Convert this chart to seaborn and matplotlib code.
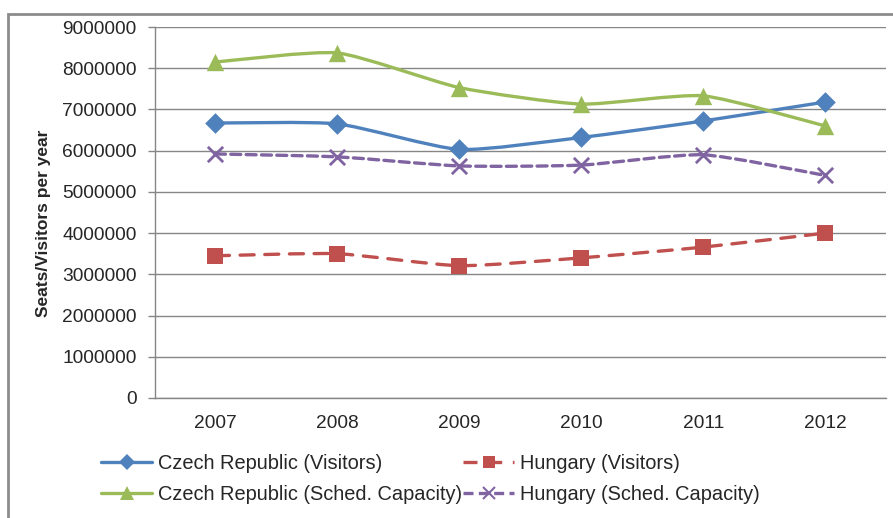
import numpy as np
import pandas as pd
import seaborn as sns
import matplotlib
matplotlib.use("Agg")
import matplotlib.pyplot as plt
from matplotlib.path import Path
from matplotlib.patches import PathPatch, Rectangle
from matplotlib.lines import Line2D

# Annual seats / visitors
years = ["2007", "2008", "2009", "2010", "2011", "2012"]
cz_visitors = [6670000, 6650000, 6030000, 6320000, 6720000, 7180000]
hu_visitors = [3450000, 3500000, 3210000, 3400000, 3660000, 4000000]
cz_capacity = [8150000, 8370000, 7530000, 7130000, 7330000, 6600000]
hu_capacity = [5920000, 5850000, 5630000, 5650000, 5900000, 5400000]

series_names = [
    "Czech Republic (Visitors)",
    "Hungary (Visitors)",
    "Czech Republic (Sched. Capacity)",
    "Hungary (Sched. Capacity)",
]
y_ticks = [0, 1000000, 2000000, 3000000, 4000000, 5000000, 6000000, 7000000, 8000000, 9000000]

sns.set_theme(style="white")
plt.rcParams["font.family"] = ["Liberation Sans", "DejaVu Sans"]

fig = plt.figure(figsize=(8.93, 5.18), dpi=100)
ax = fig.add_axes([154.5 / 893, 1 - 398 / 518, (886 - 154.5) / 893, (398 - 27) / 518])

frames = []
for name, vals in zip(series_names, [cz_visitors, hu_visitors, cz_capacity, hu_capacity]):
    frames.append(pd.DataFrame({"series": name, "x": np.arange(len(years)), "value": vals}))
df = pd.concat(frames, ignore_index=True)

styles = {
    "Czech Republic (Visitors)": dict(color="#4F81BD", marker="D", ms=10.5, dash=None),
    "Hungary (Visitors)": dict(color="#C0504D", marker="s", ms=11, dash=(4.2, 3.2)),
    "Czech Republic (Sched. Capacity)": dict(color="#9BBB59", marker="^", ms=12.5, dash=None),
    "Hungary (Sched. Capacity)": dict(color="#8064A2", marker="x", ms=11, dash=(3.0, 1.6)),
}
LW = 2.4
FS = 13.8
LEG_FS = 14.4


def smooth_path(xs, ys, k=0.1):
    """Cubic Bezier path through the points with gently rounded corners."""
    pts = np.column_stack([xs, ys]).astype(float)
    n = len(pts)
    verts = [pts[0]]
    codes = [Path.MOVETO]
    for i in range(n - 1):
        p0 = pts[i - 1] if i > 0 else pts[i]
        p1 = pts[i]
        p2 = pts[i + 1]
        p3 = pts[i + 2] if i + 2 < n else pts[i + 1]
        c1 = p1 + (p2 - p0) * k
        c2 = p2 - (p3 - p1) * k
        verts += [c1, c2, p2]
        codes += [Path.CURVE4] * 3
    return Path(verts, codes)


# gridlines
for t in y_ticks:
    ax.axhline(t, color="#868686", lw=1.0, zorder=0.5)

for name in series_names:
    st = styles[name]
    sub = df[df["series"] == name]
    patch = PathPatch(smooth_path(sub["x"].values, sub["value"].values),
                      facecolor="none", edgecolor=st["color"], lw=LW,
                      capstyle="round", joinstyle="round", zorder=2)
    if st["dash"] is not None:
        patch.set_linestyle((0, st["dash"]))
    ax.add_patch(patch)
    sns.scatterplot(data=sub, x="x", y="value", ax=ax, color=st["color"],
                    marker=st["marker"], s=st["ms"] ** 2,
                    linewidth=(2.0 if st["marker"] == "x" else 0),
                    edgecolor=(None if st["marker"] == "x" else st["color"]),
                    zorder=3, legend=False)

ax.set_xlim(-0.5, len(years) - 0.5)
ax.set_ylim(0, 9000000)
ax.set_xticks(range(len(years)))
ax.set_xticklabels(years)
ax.set_yticks(y_ticks)
ax.set_yticklabels([str(v) for v in y_ticks])
ax.set_xlabel("")
ax.set_ylabel("Seats/Visitors per year", fontsize=12.5, fontweight="bold")
ax.yaxis.set_label_coords(-0.141, 0.47)

for side in ["top", "right"]:
    ax.spines[side].set_visible(False)
for side in ["left", "bottom"]:
    ax.spines[side].set_color("#868686")
    ax.spines[side].set_linewidth(1.0)
ax.tick_params(axis="y", which="major", direction="out", length=5, width=1.0,
               color="#868686", labelsize=FS, pad=8, left=True)
ax.tick_params(axis="x", which="major", length=0, labelsize=FS, pad=12)

handles = []
for name in series_names:
    st = styles[name]
    handles.append(Line2D([0], [0], color=st["color"], lw=LW,
                          linestyle=("-" if st["dash"] is None else (0, st["dash"])),
                          marker=st["marker"], markersize=st["ms"] * 0.75,
                          markeredgewidth=(1.5 if st["marker"] == "x" else 0)))
order = [0, 2, 1, 3]
leg = fig.legend([handles[i] for i in order], [series_names[i] for i in order],
                 ncol=2, loc="upper left", bbox_to_anchor=(101 / 893, 1 - 454 / 518),
                 frameon=False, fontsize=LEG_FS, handlelength=2.55, handletextpad=0.3,
                 columnspacing=0.05, labelspacing=0.62, borderpad=0, borderaxespad=0)

# outer chart frame
fig.patches.append(Rectangle((7.5 / 893, -0.05), 1.2, 1 - 14 / 518 + 0.05,
                             transform=fig.transFigure, fill=False,
                             edgecolor="#8c8c8c", lw=2.0, zorder=0))

fig.savefig("out.png", dpi=100)
